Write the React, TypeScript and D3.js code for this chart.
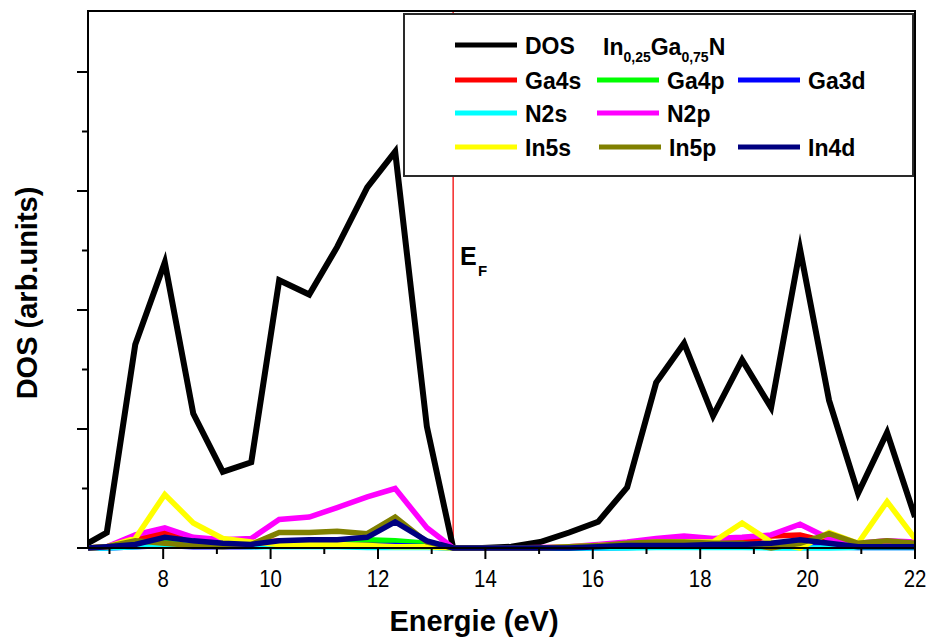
import React from 'react';
import * as d3 from 'd3';

// Energy grid (eV)
const energies = [6.60, 6.95, 7.48, 8.03, 8.56, 9.11, 9.64, 10.16, 10.72, 11.24, 11.80, 12.32, 12.91, 13.40,
  13.94, 14.48, 15.02, 15.56, 16.10, 16.64, 17.18, 17.70, 18.24, 18.78, 19.32, 19.86, 20.40, 20.94, 21.48, 22.00];

const dosTotal = [0.04, 0.13, 1.71, 2.40, 1.13, 0.64, 0.72, 2.25, 2.13, 2.53, 3.03, 3.33, 1.02, 0,
  0, 0.01, 0.05, 0.13, 0.22, 0.51, 1.39, 1.72, 1.11, 1.58, 1.18, 2.51, 1.24, 0.46, 0.97, 0.26];
const ga4s = [0, 0.01, 0.07, 0.13, 0.08, 0.05, 0.04, 0.06, 0.06, 0.06, 0.06, 0.04, 0.02, 0,
  0, 0, 0, 0, 0.01, 0.02, 0.03, 0.04, 0.04, 0.05, 0.10, 0.11, 0.05, 0.03, 0.03, 0.02];
const ga4p = [0, 0.01, 0.03, 0.05, 0.04, 0.03, 0.03, 0.05, 0.05, 0.06, 0.07, 0.06, 0.04, 0,
  0, 0, 0, 0, 0.01, 0.01, 0.02, 0.02, 0.02, 0.02, 0.02, 0.03, 0.02, 0.01, 0.01, 0.02];
const ga3d = [0, 0, 0.01, 0.02, 0.01, 0.01, 0.01, 0.02, 0.02, 0.02, 0.02, 0.02, 0.01, 0,
  0, 0, 0, 0, 0, 0.005, 0.01, 0.01, 0.01, 0.01, 0.01, 0.01, 0.01, 0.005, 0.005, 0.005];
const n2s = [0, 0, 0.01, 0.03, 0.03, 0.02, 0.01, 0.01, 0.01, 0.01, 0.005, 0.005, 0.005, 0,
  0, 0, 0, 0, 0, 0, 0.005, 0.005, 0.005, 0.005, 0, 0, 0, 0.005, 0.005, 0.005];
const n2p = [0, 0.01, 0.11, 0.17, 0.09, 0.07, 0.08, 0.24, 0.26, 0.34, 0.43, 0.50, 0.17, 0,
  0, 0, 0.005, 0.01, 0.03, 0.05, 0.08, 0.10, 0.08, 0.09, 0.11, 0.20, 0.08, 0.04, 0.06, 0.05];
const in5s = [0, 0.01, 0.08, 0.45, 0.21, 0.08, 0.05, 0.03, 0.03, 0.03, 0.02, 0.01, 0.01, 0,
  0, 0, 0, 0.01, 0.02, 0.03, 0.05, 0.05, 0.05, 0.21, 0.05, 0, 0.13, 0.04, 0.39, 0.08];
const in5p = [0, 0.01, 0.06, 0.04, 0.02, 0.01, 0.03, 0.13, 0.13, 0.14, 0.12, 0.26, 0.05, 0,
  0, 0, 0, 0.01, 0.02, 0.04, 0.05, 0.05, 0.04, 0.04, 0, 0.04, 0.12, 0.04, 0.06, 0.04];
const in4d = [0, 0.01, 0.03, 0.09, 0.06, 0.04, 0.03, 0.06, 0.07, 0.07, 0.09, 0.22, 0.06, 0,
  0, 0, 0, 0, 0.01, 0.02, 0.02, 0.02, 0.03, 0.03, 0.04, 0.07, 0.04, 0.01, 0.01, 0.01];

const seriesNames = ['DOS', 'Ga4s', 'Ga4p', 'Ga3d', 'N2s', 'N2p', 'In5s', 'In5p', 'In4d'];
const seriesValues = [dosTotal, ga4s, ga4p, ga3d, n2s, n2p, in5s, in5p, in4d];
const seriesColors = ['#000000', '#ff0000', '#00ff00', '#0000ff', '#00ffff', '#ff00ff', '#ffff00', '#808000', '#000080'];

const xTicksMajor = [8, 10, 12, 14, 16, 18, 20, 22];
const xTicksMinor = [7, 9, 11, 13, 15, 17, 19, 21];
const yTicksMajor = [0, 1, 2, 3, 4];
const yTicksMinor = [0.5, 1.5, 2.5, 3.5];
const fermiEnergy = 13.40;

const FONT = 'Liberation Sans, Arial, sans-serif';

export default function App() {
  const left = 88, right = 915, top = 11, bottom = 548;
  const x = d3.scaleLinear().domain([6.6, 22]).range([left, right]);
  const y = d3.scaleLinear().domain([0, 4.5]).range([bottom, top + 1.5]);
  const line = d3.line<number>()
    .x((_, i) => x(energies[i]))
    .y(d => y(d));

  // legend layout: [col, row]
  const legendPos: [number, number][] = [[0, 0], [0, 1], [1, 1], [2, 1], [0, 2], [1, 2], [0, 3], [1, 3], [2, 3]];
  const colLineX = [455, 597, 738];
  const rowY = [45, 80, 113, 147];

  return (
    <svg width={930} height={637} style={{ position: 'absolute', left: 0, top: 0, background: '#fff' }}
      fontFamily={FONT}>
      <defs>
        <clipPath id="plotClip">
          <rect x={left} y={top} width={right - left} height={bottom - top + 4} />
        </clipPath>
      </defs>
      <rect x={0} y={0} width={930} height={637} fill="#fff" />

      {/* Fermi level */}
      <line x1={x(fermiEnergy)} x2={x(fermiEnergy)} y1={top} y2={bottom} stroke="#f53535" strokeWidth={1.6} />

      <g clipPath="url(#plotClip)">
        {seriesValues.map((vals, k) => (
          <path key={seriesNames[k]} d={line(vals) || ''} fill="none" stroke={seriesColors[k]}
            strokeWidth={k === 0 ? 6 : 5.5} strokeLinejoin="miter" strokeMiterlimit={10} />
        ))}
      </g>

      {/* frame */}
      <rect x={left} y={top} width={right - left} height={bottom - top} fill="none" stroke="#000" strokeWidth={2} />

      {/* x ticks */}
      {xTicksMajor.map(t => (
        <g key={'xm' + t}>
          <line x1={x(t)} x2={x(t)} y1={bottom} y2={bottom + 11} stroke="#000" strokeWidth={2} />
          <text x={x(t)} y={587} textAnchor="middle" fontSize={24} fill="#000"
            transform={`translate(${x(t)},0) scale(0.85,1) translate(${-x(t)},0)`}>{t}</text>
        </g>
      ))}
      {xTicksMinor.map(t => (
        <line key={'xn' + t} x1={x(t)} x2={x(t)} y1={bottom} y2={bottom + 6} stroke="#000" strokeWidth={2} />
      ))}
      {/* y ticks */}
      {yTicksMajor.map(t => (
        <line key={'ym' + t} x1={left - 11} x2={left} y1={y(t)} y2={y(t)} stroke="#000" strokeWidth={2} />
      ))}
      {yTicksMinor.map(t => (
        <line key={'yn' + t} x1={left - 6} x2={left} y1={y(t)} y2={y(t)} stroke="#000" strokeWidth={2} />
      ))}

      {/* axis titles */}
      <text x={474} y={631} textAnchor="middle" fontSize={29} fontWeight="bold">Energie (eV)</text>
      <text transform="translate(37,293) rotate(-90)" textAnchor="middle" fontSize={29} fontWeight="bold">DOS (arb.units)</text>

      {/* E_F label */}
      <text x={460} y={265} fontSize={25} fontWeight="bold">E</text>
      <text x={478} y={276} fontSize={15} fontWeight="bold">F</text>

      {/* legend */}
      <rect x={404} y={14} width={509} height={162} fill="#fff" stroke="#2a2a2a" strokeWidth={2} />
      {seriesNames.map((name, k) => {
        const [c, r] = legendPos[k];
        const lx = colLineX[c] + (name === 'In5p' ? 2 : 0);
        const ly = rowY[r];
        return (
          <g key={'lg' + name}>
            <line x1={lx} x2={lx + 62} y1={ly} y2={ly} stroke={seriesColors[k]} strokeWidth={5} />
            <text x={lx + 70} y={ly + 9} fontSize={23} fontWeight="bold">{name}</text>
          </g>
        );
      })}
      <text x={603} y={55} fontSize={23} fontWeight="bold">
        In<tspan fontSize={14} dy={7}>0,25</tspan><tspan dy={-7}>Ga</tspan><tspan fontSize={14} dy={7}>0,75</tspan><tspan dy={-7}>N</tspan>
      </text>
    </svg>
  );
}
